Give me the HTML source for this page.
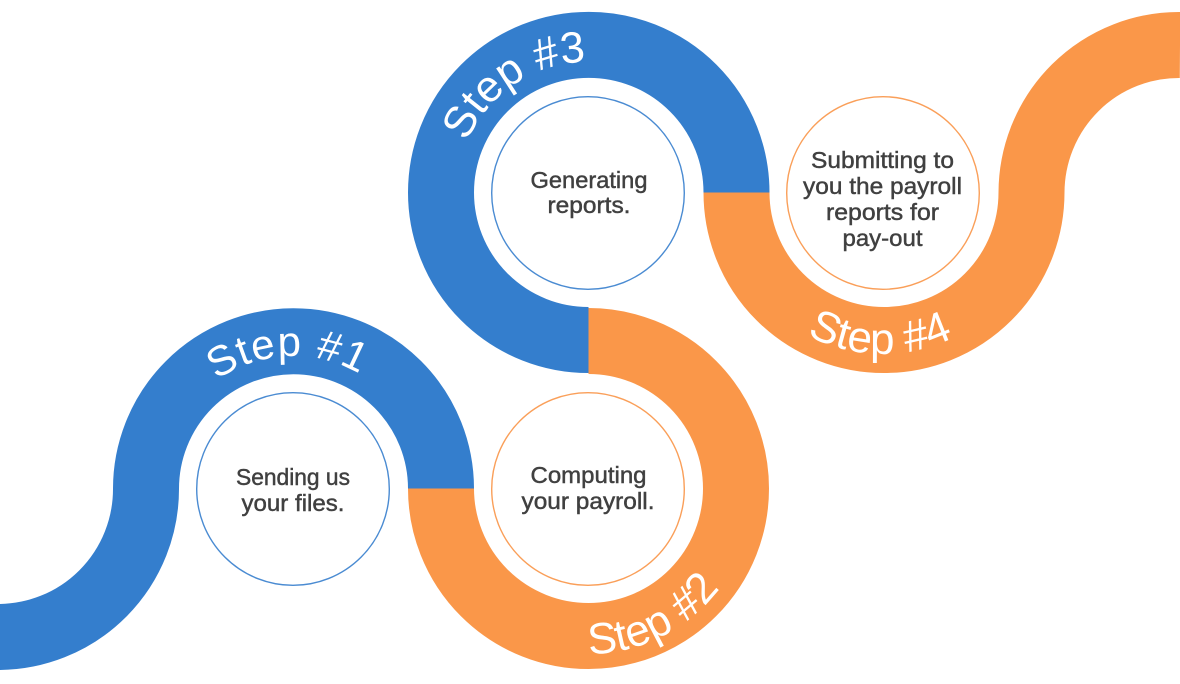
<!DOCTYPE html>
<html><head><meta charset="utf-8"><style>
html,body{margin:0;padding:0;background:#fff;width:1180px;height:684px;overflow:hidden}
svg{display:block}
.b{font:23px "Liberation Sans",sans-serif;fill:#404040;stroke:#404040;stroke-width:.45px;text-anchor:middle}
.s{font:42px "Liberation Sans",sans-serif;fill:#fff}
</style></head><body>
<svg width="1180" height="684" viewBox="0 0 1180 684" xmlns="http://www.w3.org/2000/svg">
<g fill="none" stroke-width="66">
<path stroke="#347ecd" d="M-2 637A148 148 0 0 0 146 489A147.500 147.500 0 0 1 441 488.500"/>
<path stroke="#fa9749" d="M441 488.500A147.500 147.500 0 0 0 736 488.500A147.500 147.500 0 0 0 588.500 341"/>
<path stroke="#347ecd" d="M588.500 340A147.500 147.500 0 0 1 441 192.500A147.750 147.750 0 0 1 736.500 192.500"/>
<path stroke="#fa9749" d="M736.500 192.500A147.500 147.500 0 0 0 1031.500 192.500A148 148 0 0 1 1180 45"/>
</g>
<g fill="#fff" stroke-width="1.4">
<circle cx="293" cy="489" r="96.300" stroke="#4a8bd2"/>
<circle cx="588" cy="489" r="96.300" stroke="#fa9f59"/>
<circle cx="588" cy="193" r="96.300" stroke="#4a8bd2"/>
<circle cx="883" cy="193" r="96.300" stroke="#fa9f59"/>
</g>
<defs>
<path id="p1" d="M216.700 380.100A133 133 0 0 1 378.500 387.100"/>
<path id="p2" d="M589 654A165 165 0 0 0 737.500 558.700"/>
<path id="p3" d="M467 142A131 131 0 0 1 633 70"/>
<path id="p4" d="M807 335A161 161 0 0 0 983 319"/>
</defs>
<text class="s" letter-spacing="1"><textPath href="#p1">Step #1</textPath></text>
<text class="s" style="font-size:44px"><textPath href="#p2">Step #2</textPath></text>
<text class="s" style="font-size:44px"><textPath href="#p3">Step #3</textPath></text>
<text class="s" style="font-size:44px"><textPath href="#p4">Step #4</textPath></text>
<g class="t">
<text class="b" x="293" y="485" textLength="114" lengthAdjust="spacingAndGlyphs">Sending us</text>
<text class="b" x="293" y="511" textLength="103" lengthAdjust="spacingAndGlyphs">your files.</text>
<text class="b" x="588.500" y="483" textLength="116" lengthAdjust="spacingAndGlyphs">Computing</text>
<text class="b" x="588" y="509" textLength="133" lengthAdjust="spacingAndGlyphs">your payroll.</text>
<text class="b" x="589" y="188" textLength="117" lengthAdjust="spacingAndGlyphs">Generating</text>
<text class="b" x="589" y="213" textLength="83" lengthAdjust="spacingAndGlyphs">reports.</text>
<text class="b" x="882.500" y="168" textLength="143" lengthAdjust="spacingAndGlyphs">Submitting to</text>
<text class="b" x="882.500" y="194" textLength="159" lengthAdjust="spacingAndGlyphs">you the payroll</text>
<text class="b" x="882.500" y="220" textLength="113" lengthAdjust="spacingAndGlyphs">reports for</text>
<text class="b" x="882.500" y="246" textLength="80" lengthAdjust="spacingAndGlyphs">pay-out</text>
</g>
</svg>
</body></html>
